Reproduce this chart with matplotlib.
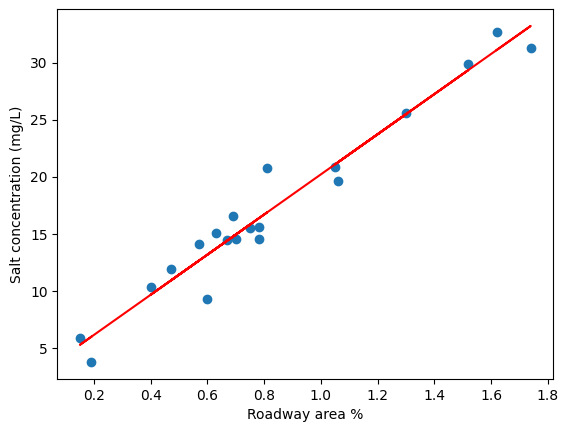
import numpy as np
import matplotlib
matplotlib.use("Agg")
import matplotlib.pyplot as plt

# data
roadway = [0.19, 0.15, 0.57, 0.40, 0.70, 0.67, 0.63, 0.47, 0.75, 0.60,
           0.78, 0.81, 0.78, 0.69, 1.30, 1.05, 1.52, 1.06, 1.74, 1.62]
salt = [3.8, 5.9, 14.1, 10.4, 14.6, 14.5, 15.1, 11.9, 15.5, 9.3,
        15.6, 20.8, 14.6, 16.6, 25.6, 20.9, 29.9, 19.6, 31.3, 32.7]

x = np.array(roadway)
y = np.array(salt)
slope, intercept = np.polyfit(x, y, 1)

fig = plt.figure(figsize=(5.68, 4.36), dpi=100)
ax = fig.add_axes([0.101, 0.131, 0.873, 0.848])
ax.scatter(x, y)
ax.plot(x, slope * x + intercept, color="red")
ax.set_xlabel("Roadway area %")
ax.set_ylabel("Salt concentration (mg/L)")
fig.savefig("out.png", dpi=100)
